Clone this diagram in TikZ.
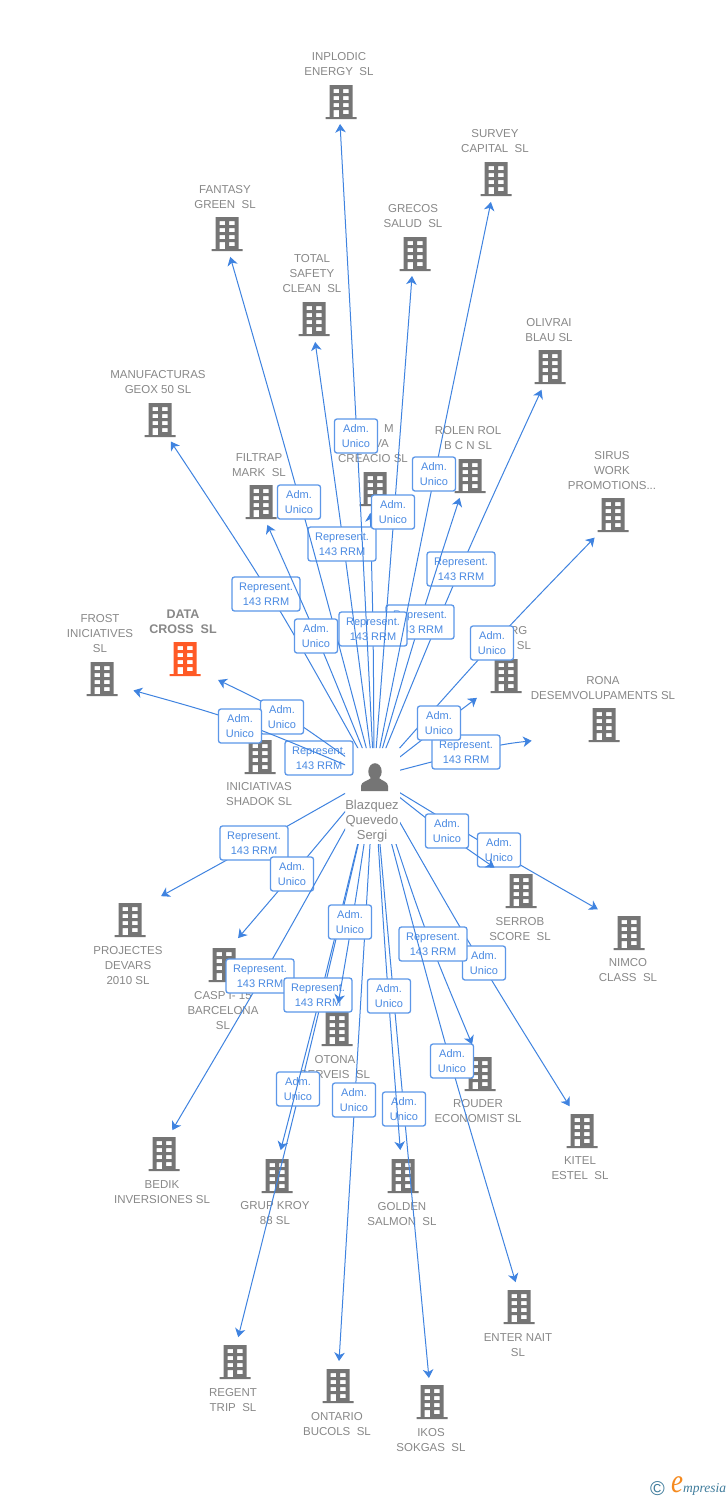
\documentclass[tikz,border=0pt]{standalone}
\usepackage{fontspec}
\setmainfont{Liberation Sans}
\newfontfamily\logofont{Liberation Serif}
\usetikzlibrary{arrows.meta,calc}
\definecolor{edgeblue}{HTML}{3F83E0}
\definecolor{boxblue}{HTML}{5C97E8}
\definecolor{txtblue}{HTML}{4A8AE2}
\definecolor{labgray}{HTML}{888888}
\definecolor{icongray}{HTML}{757575}
\definecolor{iconred}{HTML}{FF5A26}
\definecolor{logoteal}{HTML}{3F7C9C}
\definecolor{logoorange}{HTML}{F58A1F}
\tikzset{
  conn/.style={draw=edgeblue,line width=1pt,-{Stealth[length=8.5pt,width=10.5pt,inset=2.5pt]}},
  boxbase/.style={draw=boxblue,line width=1.3pt,rounded corners=2.5pt,fill=white,
     text=txtblue,align=center,inner sep=0pt,minimum height=34pt,font=\fontsize{11}{15}\selectfont},
  adm/.style={boxbase,minimum width=43pt},
  rep/.style={boxbase,minimum width=68pt},
  co/.style={text=labgray,align=center,inner sep=0pt,yshift=-1pt,font=\fontsize{11.5}{15}\selectfont},
  hit/.style={circle,inner sep=0pt,outer sep=0pt},
  bld/.pic={
    \fill[pic actions,even odd rule]
      (-11.5,-17) rectangle (11.5,15) (-15.5,15) rectangle (15.5,17)
      (-7.5,-13) rectangle (-2,-9) (2,-13) rectangle (7.5,-9)
      (-7.5,-6) rectangle (-2,-2) (2,-6) rectangle (7.5,-2)
      (-7.5,1) rectangle (-2,5) (2,1) rectangle (7.5,5)
      (-7.5,8) rectangle (-2,15) (2,8) rectangle (7.5,12);
  }
}
\newcommand\txtadm{Adm.\hspace{3pt}\\Unico}
\newcommand\txtrep{Represent.\\143 RRM}
% name, icon x, icon y, arrow tip x, arrow tip y
\newcommand\bldg[6][icongray]{%
  \pic[fill=#1] at (#3,#4) {bld};
  \node[hit,minimum size=48pt] (#2) at ($(#5,#6)!-24pt!(p)$) {};
}
\newcommand\edge[6]{%
  \begin{scope}[even odd rule]
    \clip (-10,-10) rectangle (740,1510) (345,748) rectangle (400,844);
    \draw[conn] (p) .. controls ($1.3333*(#2,#3)-0.16667*(p)-0.16667*(#1)$) .. (#1);
  \end{scope}
  \node[#6] (lbl-#1) at (#4,#5) {\csname txt#6\endcsname};
}
\begin{document}
\begin{tikzpicture}[x=1pt,y=-1pt]
\useasboundingbox[fill=white] (0,0) rectangle (728,1500);
% person
\node[hit,minimum size=0pt] (p) at (374,777) {};
\fill[icongray] (375,771.5) ellipse (6.7 and 8.3);
\fill[icongray] (361,791) -- (361,786) .. controls (361,781.5) and (368,781) .. (371,778) -- (379,778) .. controls (382,781) and (388,781.5) .. (388,786) -- (388,791) -- cycle;
\node[co,font=\fontsize{13}{15}\selectfont] (p-l) at (372,820) {Blazquez\\Quevedo\\Sergi};
% companies
\bldg{inplodic}{341}{102}{340}{124}
\bldg{survey}{496}{179}{491}{202}
\bldg{fantasy}{227}{234}{230}{257}
\bldg{grecos}{415}{254}{412}{276}
\bldg{total}{314}{319}{315}{342}
\bldg{olivrai}{550}{367}{542}{390}
\bldg{manuf}{160}{420}{170}{442}
\bldg{creacio}{375}{489}{370}{513}
\bldg{rolen}{470}{476}{460}{498}
\bldg{filtrap}{261}{502}{267}{525}
\bldg{sirus}{613}{515}{595}{538}
\bldg{frost}{102}{679}{133}{692}
\bldg[iconred]{data}{185}{659}{217}{682}
\bldg{rg}{506}{676}{477}{698}
\bldg{rona}{604}{725}{532}{743}
\bldg{inic}{260}{757}{290}{765}
\bldg{nimco}{629}{933}{598}{909}
\bldg{serrob}{521}{891}{495}{867}
\bldg{projectes}{130}{920}{161}{896}
\bldg{casp}{224}{965}{238}{938}
\bldg{otona}{337}{1029}{338}{1003}
\bldg{rouder}{480}{1074}{473}{1044}
\bldg{kitel}{582}{1131}{570}{1106}
\bldg{bedik}{164}{1154}{172}{1130}
\bldg{grup}{277}{1176}{280.5}{1150}
\bldg{golden}{403}{1176}{400.5}{1150}
\bldg{enter}{519}{1307}{516}{1282}
\bldg{regent}{235}{1362}{238}{1337}
\bldg{ontario}{338}{1386}{339}{1361}
\bldg{ikos}{432}{1402}{429}{1378}
% company labels
\node[co] (l1) at (339,63.5) {INPLODIC\\ENERGY\ \ SL};
\node[co] (l2) at (495,140.5) {SURVEY\\CAPITAL\ \ SL};
\node[co] (l3) at (225,196.5) {FANTASY\\GREEN\ \ SL};
\node[co] (l4) at (413,215.5) {GRECOS\\SALUD\ \ SL};
\node[co] (l5) at (312,273) {TOTAL\\SAFETY\\CLEAN\ \ SL};
\node[co] (l6) at (549,329.5) {OLIVRAI\\BLAU SL};
\node[co] (l7) at (158,381.5) {MANUFACTURAS\\GEOX 50 SL};
\node[co] (l8) at (373,443) {\hspace*{32pt}M\\\hspace*{17pt}VA\\CREACIO SL};
\node[co] (l9) at (468,437.5) {ROLEN ROL\\B C N SL};
\node[co] (l10) at (259,464.5) {FILTRAP\\MARK\ \ SL};
\node[co] (l11) at (612,470) {SIRUS\\WORK\\PROMOTIONS...};
\node[co] (l12) at (100,633) {FROST\\INICIATIVES\\SL};
\node[co,font=\fontsize{12.5}{15}\bfseries\selectfont] (l13) at (183,621) {DATA\\CROSS\ \ SL};
\node[co] (l14) at (506,637.5) {\hspace*{25.5pt}RG\\\hspace*{36pt}SL};
\node[co] (l15) at (603,687.5) {RONA\\DESEMVOLUPAMENTS SL};
\node[co] (l16) at (259,793.5) {INICIATIVAS\\SHADOK SL};
\node[co] (l17) at (520,928.5) {SERROB\\SCORE\ \ SL};
\node[co] (l18) at (628,969.5) {NIMCO\\CLASS\ \ SL};
\node[co] (l19) at (128,965) {PROJECTES\\DEVARS\\2010 SL};
\node[co] (l20) at (223,1010) {CASP I- 15\\BARCELONA\\SL};
\node[co] (l21) at (335,1066.5) {OTONA\\SERVEIS\ \ SL};
\node[co] (l22) at (478,1110.5) {ROUDER\\ECONOMIST SL};
\node[co] (l23) at (580,1167.5) {KITEL\\ESTEL\ \ SL};
\node[co] (l24) at (162,1191.5) {BEDIK\\INVERSIONES SL};
\node[co] (l25) at (275,1212.5) {GRUP KROY\\88 SL};
\node[co] (l26) at (402,1213.5) {GOLDEN\\SALMON\ \ SL};
\node[co] (l27) at (518,1344.5) {ENTER NAIT\\SL};
\node[co] (l28) at (233,1399.5) {REGENT\\TRIP\ \ SL};
\node[co] (l29) at (337,1423.5) {ONTARIO\\BUCOLS\ \ SL};
\node[co] (l30) at (431,1439.5) {IKOS\\SOKGAS\ \ SL};
% edges and their labels, in paint order
\edge{inic}{319}{761}{319}{758}{rep}
\edge{manuf}{272}{598}{266}{594}{rep}
\edge{olivrai}{460}{570}{461}{569}{rep}
\edge{rolen}{420}{622}{420}{622}{rep}
\edge{creacio}{373}{633}{373}{629}{rep}
\edge{total}{344}{548}{342}{544}{rep}
\edge{fantasy}{301}{505}{299}{502}{adm}
\edge{inplodic}{357}{439}{356}{436}{adm}
\edge{grecos}{394}{515}{393}{512}{adm}
\edge{survey}{434}{478}{434}{474}{adm}
\edge{filtrap}{318}{640}{316}{636}{adm}
\edge{sirus}{493}{644}{492}{643}{adm}
\edge{rona}{489}{748}{466}{752}{rep}
\edge{rg}{440}{726}{439}{723}{adm}
\edge{data}{281}{713}{282}{717}{adm}
\edge{frost}{238}{722}{240}{726}{adm}
\edge{nimco}{500}{853}{499}{850}{adm}
\edge{serrob}{447}{834}{447}{831}{adm}
\edge{projectes}{252}{846}{254}{843}{rep}
\edge{casp}{297}{869}{292}{874}{adm}
\edge{bedik}{269}{965}{260}{976}{rep}
\edge{regent}{305}{1069}{298}{1089}{adm}
\edge{grup}{325}{977}{318}{995}{rep}
\edge{ontario}{356}{1081}{354}{1100}{adm}
\edge{otona}{355}{903}{350}{922}{adm}
\edge{ikos}{402}{1089}{404}{1109}{adm}
\edge{golden}{387}{976}{389}{996}{adm}
\edge{kitel}{476}{954}{484}{963}{adm}
\edge{rouder}{424}{925}{433}{944}{rep}
\edge{enter}{445}{1042}{452}{1061}{adm}
% logo
\node[inner sep=0pt,text=logoteal,font=\fontsize{20}{20}\selectfont] (logo1) at (657.5,1489) {©};
\node[inner sep=0pt,text=logoorange,yscale=1.25,transform shape,font=\logofont\fontsize{27}{27}\itshape\selectfont] (logo2) at (677,1485) {e};
\node[inner sep=0pt,anchor=west,text=logoteal,font=\logofont\fontsize{13.5}{13.5}\itshape\selectfont] (logo3) at (683,1489.5) {mpresia};
\end{tikzpicture}
\end{document}
